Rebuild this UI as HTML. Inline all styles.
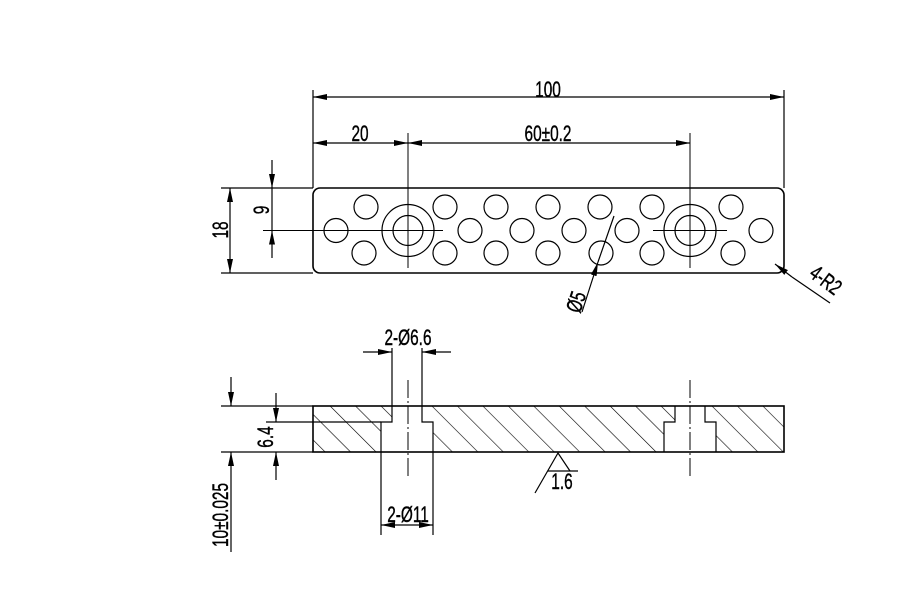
<!DOCTYPE html>
<html><head><meta charset="utf-8"><style>
html,body{margin:0;padding:0;background:#fff;}
svg{display:block}
text{font-family:"Liberation Sans Narrow","Liberation Sans",sans-serif;font-size:22px;fill:#000;stroke:#000;stroke-width:0.4;}
</style></head><body>
<svg width="919" height="593" viewBox="0 0 919 593" xmlns="http://www.w3.org/2000/svg">
<defs>
<marker id="a" viewBox="0 0 14 6" refX="14" refY="3" markerWidth="14" markerHeight="6" markerUnits="userSpaceOnUse" orient="auto-start-reverse"><path d="M0,0 L14,3 L0,6z" fill="#000"/></marker>
<pattern id="h" patternUnits="userSpaceOnUse" width="18" height="18" patternTransform="rotate(-45)"><line x1="0" y1="0" x2="0" y2="18" stroke="#000" stroke-width="1.2"/></pattern>
</defs>
<g fill="none" stroke="#000" stroke-width="1.2">
<rect x="313" y="188" width="471" height="85" rx="7" stroke-width="1.6"/>
<circle cx="408" cy="230.5" r="26"/><circle cx="408" cy="230.5" r="15"/>
<circle cx="690" cy="230.5" r="26"/><circle cx="690" cy="230.5" r="15"/>
<g>
<circle cx="366" cy="207" r="12"/><circle cx="445" cy="207" r="12"/><circle cx="496" cy="207" r="12"/><circle cx="548" cy="207" r="12"/><circle cx="600" cy="207" r="12"/><circle cx="652" cy="207" r="12"/><circle cx="731" cy="207" r="12"/>
<circle cx="364" cy="253" r="12"/><circle cx="445" cy="253" r="12"/><circle cx="496" cy="253" r="12"/><circle cx="548" cy="253" r="12"/><circle cx="601" cy="253" r="12"/><circle cx="652" cy="253" r="12"/><circle cx="733" cy="253" r="12"/>
<circle cx="336" cy="230.5" r="12"/><circle cx="470" cy="230.5" r="12"/><circle cx="522" cy="230.5" r="12"/><circle cx="574" cy="230.5" r="12"/><circle cx="627" cy="230.5" r="12"/><circle cx="761" cy="230.5" r="12"/>
</g>
<line x1="408" y1="133" x2="408" y2="268" stroke-width="1"/>
<line x1="690" y1="133" x2="690" y2="268" stroke-width="1"/>
<line x1="263" y1="230.5" x2="443" y2="230.5" stroke-width="1"/>
<line x1="653" y1="230.5" x2="727" y2="230.5" stroke-width="1"/>
<line x1="313" y1="90" x2="313" y2="188"/><line x1="784" y1="90" x2="784" y2="188"/>
<line x1="313" y1="97" x2="784" y2="97" marker-start="url(#a)" marker-end="url(#a)"/>
<line x1="313" y1="143" x2="408" y2="143" marker-start="url(#a)" marker-end="url(#a)"/>
<line x1="408" y1="143" x2="690" y2="143" marker-start="url(#a)" marker-end="url(#a)"/>
<line x1="221" y1="188" x2="313" y2="188"/><line x1="221" y1="273" x2="313" y2="273"/>
<line x1="230" y1="188" x2="230" y2="273" marker-start="url(#a)" marker-end="url(#a)"/>
<line x1="272" y1="160" x2="272" y2="188" marker-end="url(#a)"/>
<line x1="272" y1="258" x2="272" y2="230.5" marker-end="url(#a)"/>
<line x1="272" y1="188" x2="272" y2="230"/>
<line x1="582" y1="312" x2="598" y2="262" marker-end="url(#a)"/>
<line x1="598" y1="262" x2="614" y2="216"/>
<line x1="775" y1="264" x2="792" y2="277" marker-start="url(#a)"/>
<line x1="792" y1="277" x2="830" y2="303"/>
<path d="M313,406 H392 V422 H381 V452 H313 Z" fill="url(#h)" stroke="none"/>
<path d="M422,406 H675 V422 H664 V452 H433 V422 H422 Z" fill="url(#h)" stroke="none"/>
<path d="M705,406 H784 V452 H716 V422 H705 Z" fill="url(#h)" stroke="none"/>
<rect x="313" y="406" width="471" height="46" stroke-width="1.6"/>
<path d="M392,406 V422 H381 V452 M422,406 V422 H433 V452" />
<path d="M675,406 V422 H664 V452 M705,406 V422 H716 V452" />
<line x1="408" y1="380" x2="408" y2="476" stroke-width="1" stroke-dasharray="18,3,2,3"/>
<line x1="690" y1="380" x2="690" y2="476" stroke-width="1" stroke-dasharray="18,3,2,3"/>
<line x1="221" y1="406" x2="313" y2="406"/><line x1="221" y1="452" x2="313" y2="452"/>
<line x1="231" y1="377" x2="231" y2="406" marker-end="url(#a)"/>
<line x1="231" y1="552" x2="231" y2="452" marker-end="url(#a)"/>
<line x1="266" y1="422" x2="381" y2="422"/>
<line x1="276" y1="393" x2="276" y2="422" marker-end="url(#a)"/>
<line x1="276" y1="480" x2="276" y2="452" marker-end="url(#a)"/>
<line x1="392" y1="348" x2="392" y2="406"/><line x1="422" y1="348" x2="422" y2="406"/>
<line x1="363" y1="352" x2="392" y2="352" marker-end="url(#a)"/>
<line x1="451" y1="352" x2="422" y2="352" marker-end="url(#a)"/>
<line x1="381" y1="452" x2="381" y2="535"/><line x1="433" y1="452" x2="433" y2="535"/>
<line x1="381" y1="525" x2="433" y2="525" marker-start="url(#a)" marker-end="url(#a)"/>
<path d="M535,493 L558,453 L570,471"/>
<line x1="548" y1="471" x2="578" y2="471"/>
</g>
<text transform="translate(548,97) scale(0.7,1)" text-anchor="middle">100</text>
<text transform="translate(360,141) scale(0.7,1)" text-anchor="middle">20</text>
<text transform="translate(548,141) scale(0.7,1)" text-anchor="middle">60±0.2</text>
<text transform="translate(228,230) rotate(-90) scale(0.7,1)" text-anchor="middle">18</text>
<text transform="translate(269,210) rotate(-90) scale(0.7,1)" text-anchor="middle">9</text>
<text transform="translate(580,314) rotate(-72) scale(0.7,1)">Ø5</text>
<text transform="translate(808,276) rotate(37) scale(0.7,1)">4-R2</text>
<text transform="translate(408,345) scale(0.7,1)" text-anchor="middle">2-Ø6.6</text>
<text transform="translate(273,437) rotate(-90) scale(0.7,1)" text-anchor="middle">6.4</text>
<text transform="translate(228,515) rotate(-90) scale(0.7,1)" text-anchor="middle">10±0.025</text>
<text transform="translate(408,522) scale(0.7,1)" text-anchor="middle">2-Ø11</text>
<text transform="translate(562,489) scale(0.7,1)" text-anchor="middle">1.6</text>
</svg>
</body></html>
